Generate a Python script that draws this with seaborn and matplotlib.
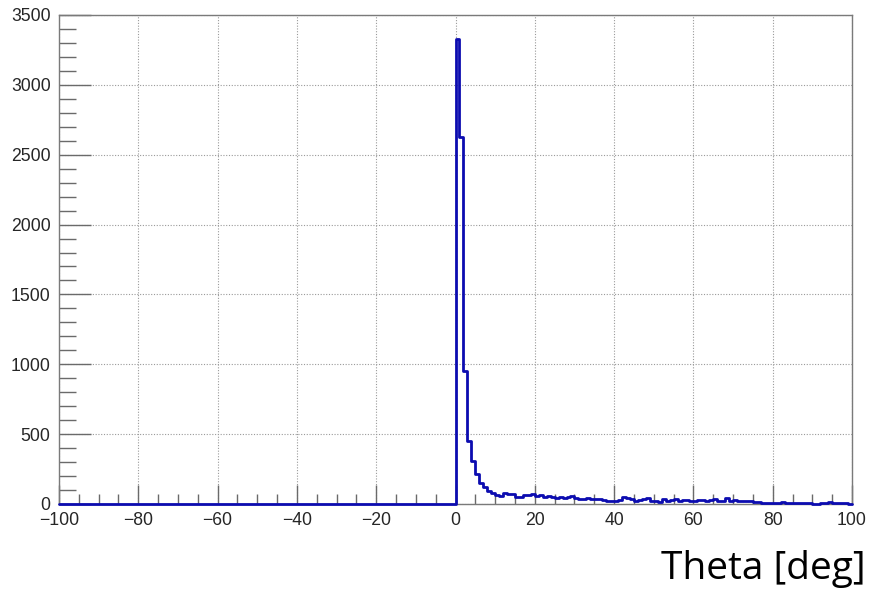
import numpy as np
import pandas as pd
import matplotlib
matplotlib.use("Agg")
import matplotlib.pyplot as plt
from matplotlib.ticker import MultipleLocator
import seaborn as sns

# Histogram of scattering angle, 1-degree bins from -100 to 100
bin_low = -100
bin_high = 100
neg_counts = [0] * 100
pos_counts = [
    3330, 2630, 950, 450, 310, 215, 150, 120, 90, 80,
    65, 55, 80, 70, 70, 50, 50, 65, 65, 75,
    55, 65, 50, 55, 50, 45, 50, 45, 50, 55,
    40, 35, 38, 40, 38, 35, 35, 30, 22, 18,
    25, 30, 48, 45, 35, 20, 28, 35, 40, 22,
    18, 15, 35, 25, 30, 35, 20, 28, 30, 22,
    20, 30, 28, 25, 30, 35, 20, 22, 40, 18,
    30, 25, 18, 22, 25, 17, 12, 10, 8, 6,
    8, 10, 12, 10, 8, 8, 7, 7, 8, 6,
    3, 0, 5, 10, 12, 10, 10, 5, 5, 3,
]
counts = neg_counts + pos_counts
x_label = "Theta [deg]"

edges = np.arange(bin_low, bin_high + 1, 1)
centers = (edges[:-1] + edges[1:]) / 2
df = pd.DataFrame({"theta": centers, "n": counts})

sns.set_style("white")
plt.rcParams["font.family"] = ["Liberation Sans", "DejaVu Sans"]

fig = plt.figure(figsize=(8.74, 5.93), dpi=100)
ax = fig.add_axes([59 / 874, 1 - 504 / 593, (852 - 59) / 874, (504 - 15) / 593])

sns.histplot(data=df, x="theta", weights="n", binwidth=1, binrange=(bin_low, bin_high),
             element="step", fill=False, color="#0c0cb0", linewidth=2.0, ax=ax)
for art in ax.lines + ax.patches + list(ax.collections):
    art.set_zorder(5)
    art.set_clip_on(False)

ax.set_xlim(bin_low, bin_high)
ax.set_ylim(0, 3500)
ax.set_xlabel("")
ax.set_ylabel("")

ax.xaxis.set_major_locator(MultipleLocator(20))
ax.xaxis.set_minor_locator(MultipleLocator(5))
ax.yaxis.set_major_locator(MultipleLocator(500))
ax.yaxis.set_minor_locator(MultipleLocator(100))

ax.grid(True, which="major", color="#9a9a9a", linestyle=(0, (1, 1.5)), linewidth=0.8)
ax.set_axisbelow(True)

for s in ax.spines.values():
    s.set_color("#7a7a7a")
    s.set_linewidth(1.0)

ax.tick_params(axis="x", which="major", direction="in", length=14, width=1,
               color="#6a6a6a", labelsize=12.7, pad=6, bottom=True)
ax.tick_params(axis="x", which="minor", direction="in", length=7, width=1,
               color="#6a6a6a", bottom=True)
ax.tick_params(axis="y", which="major", direction="in", length=23, width=1,
               color="#6a6a6a", labelsize=12.7, pad=6, left=True)
ax.tick_params(axis="y", which="minor", direction="in", length=12, width=1,
               color="#6a6a6a", left=True)

fig.text(866 / 874, 1 - 579 / 593, x_label, ha="right", va="baseline",
         fontsize=28, family=["Open Sans", "DejaVu Sans"], color="black")

fig.savefig("out.png", dpi=100, facecolor="white")
